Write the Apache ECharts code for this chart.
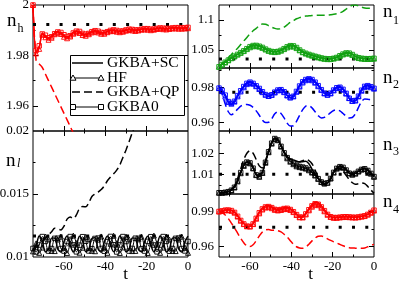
<!DOCTYPE html>
<html><head><meta charset="utf-8">
<script src="https://cdn.jsdelivr.net/npm/echarts@6/dist/echarts.min.js"></script>
<style>html,body{margin:0;padding:0;background:#fff}#c{width:399px;height:283px}</style>
</head><body><div id="c"></div>
<script>
// time grid (shared by every curve)
const T = [-75,-73.5,-72,-70.5,-69,-67.5,-66,-64.5,-63,-61.5,-60,-58.5,-57,-55.5,-54,-52.5,-51,-49.5,-48,-46.5,-45,-43.5,-42,-40.5,-39,-37.5,-36,-34.5,-33,-31.5,-30,-28.5,-27,-25.5,-24,-22.5,-21,-19.5,-18,-16.5,-15,-13.5,-12,-10.5,-9,-7.5,-6,-4.5,-3,-1.5,0];

// n_h
const NH_SC = [2.0,1.9815,1.9832,1.9887,1.9876,1.9867,1.9876,1.9889,1.9894,1.9888,1.9878,1.9872,1.9880,1.9891,1.9896,1.9892,1.9884,1.9882,1.9888,1.9895,1.9898,1.9894,1.9889,1.9890,1.9896,1.9900,1.9900,1.9897,1.9895,1.9898,1.9902,1.9904,1.9902,1.9900,1.9902,1.9905,1.9906,1.9905,1.9903,1.9905,1.9908,1.9909,1.9907,1.9906,1.9908,1.9910,1.9910,1.9909,1.9909,1.9910,1.9911];
const NH_HF = [2.0,1.9808,1.9826,1.9882,1.9872,1.9862,1.9870,1.9884,1.9890,1.9885,1.9874,1.9868,1.9875,1.9886,1.9892,1.9889,1.9881,1.9878,1.9884,1.9891,1.9894,1.9891,1.9886,1.9886,1.9892,1.9896,1.9897,1.9894,1.9892,1.9894,1.9898,1.9901,1.9899,1.9897,1.9899,1.9902,1.9903,1.9902,1.9900,1.9902,1.9905,1.9906,1.9904,1.9903,1.9905,1.9907,1.9907,1.9906,1.9906,1.9907,1.9908];
const NH_G0 = [2.0,1.9820,1.9838,1.9885,1.9880,1.9870,1.9874,1.9886,1.9893,1.9891,1.9882,1.9875,1.9878,1.9889,1.9896,1.9895,1.9887,1.9884,1.9887,1.9894,1.9898,1.9896,1.9891,1.9890,1.9894,1.9899,1.9901,1.9899,1.9896,1.9897,1.9901,1.9904,1.9903,1.9901,1.9901,1.9904,1.9906,1.9906,1.9904,1.9904,1.9907,1.9909,1.9908,1.9907,1.9907,1.9909,1.9910,1.9910,1.9909,1.9910,1.9911];
const NH_QP = [2.0,1.9780,1.9766,1.9752,1.9726,1.9700,1.9674,1.9648,1.9622,1.9596,1.9570,1.9544,1.9518,1.9492,1.9466,1.9440];
const NH_REF = 1.9923;

// n_l
const NL_SC = [0.01060,0.01092,0.01166,0.01124,0.01040,0.01061,0.01150,0.01151,0.01062,0.01039,0.01123,0.01166,0.01093,
 0.01040,0.01090,0.01165,0.01126,0.01042,0.01060,0.01148,0.01152,0.01064,0.01038,0.01120,0.01167,0.01095,
 0.01041,0.01091,0.01166,0.01125,0.01041,0.01062,0.01151,0.01150,0.01061,0.01040,0.01122,0.01165,0.01094,
 0.01040,0.01092,0.01167,0.01124,0.01040,0.01061,0.01150,0.01152,0.01063,0.01039,0.01123,0.01166];
const NL_HF = [0.01045,0.01108,0.01033,0.01075,0.01162,0.01140,0.01048,0.01047,0.01139,0.01162,0.01076,0.01032,0.01107,
 0.01170,0.01110,0.01034,0.01074,0.01160,0.01141,0.01049,0.01046,0.01138,0.01163,0.01078,0.01033,0.01105,
 0.01169,0.01109,0.01032,0.01076,0.01161,0.01140,0.01047,0.01048,0.01140,0.01161,0.01075,0.01032,0.01108,
 0.01170,0.01107,0.01033,0.01075,0.01162,0.01139,0.01048,0.01047,0.01139,0.01162,0.01076,0.01033];
const NL_G0 = [0.01068,
 0.01040,0.01095,0.01162,0.01124,0.01047,0.01067,0.01148,0.01149,0.01067,0.01047,0.01123,0.01162,0.01096,
 0.01041,0.01094,0.01161,0.01125,0.01048,0.01066,0.01147,0.01150,0.01068,0.01046,0.01122,0.01163,0.01097,
 0.01040,0.01096,0.01162,0.01123,0.01047,0.01068,0.01149,0.01148,0.01066,0.01047,0.01124,0.01161,0.01095,
 0.01041,0.01095,0.01162,0.01124,0.01046,0.01067,0.01148,0.01150,0.01067,0.01048,0.01123];
const NL_QP = [0.01050,0.01075,0.01100,0.01125,0.01150,0.01175,0.01200,0.01228,0.01222,0.01215,
 0.01245,0.01300,0.01318,0.01305,0.01335,0.01385,0.01400,0.01398,0.01430,0.01480,
 0.01500,0.01515,0.01535,0.01565,0.01605,0.01635,0.01660,0.01690,0.01730,0.01790,
 0.01850,0.01915,0.01985,0.02050];
const NL_REF = 0.01167;

// n_1
const N1_SC = [1.0220,1.0260,1.0300,1.0335,1.0370,1.0400,1.0430,1.0460,1.0490,1.0530,1.0565,1.0585,1.0585,1.0570,1.0550,1.0520,1.0495,1.0480,1.0475,1.0480,1.0500,1.0530,1.0565,1.0585,1.0580,1.0550,1.0505,1.0470,1.0450,1.0430,1.0415,1.0400,1.0385,1.0370,1.0360,1.0355,1.0355,1.0365,1.0380,1.0410,1.0440,1.0460,1.0455,1.0430,1.0395,1.0375,1.0365,1.0360,1.0358,1.0360,1.0365];
const N1_HF = [1.0220,1.0255,1.0292,1.0328,1.0362,1.0393,1.0423,1.0452,1.0482,1.0515,1.0545,1.0562,1.0565,1.0555,1.0535,1.0508,1.0485,1.0470,1.0465,1.0470,1.0488,1.0515,1.0542,1.0560,1.0557,1.0532,1.0495,1.0462,1.0440,1.0422,1.0405,1.0390,1.0376,1.0363,1.0353,1.0348,1.0348,1.0357,1.0372,1.0398,1.0425,1.0442,1.0440,1.0418,1.0386,1.0366,1.0356,1.0351,1.0350,1.0352,1.0356];
const N1_G0 = [1.0220,1.0258,1.0296,1.0331,1.0366,1.0397,1.0427,1.0456,1.0486,1.0522,1.0555,1.0574,1.0576,1.0563,1.0543,1.0515,1.0490,1.0475,1.0470,1.0476,1.0494,1.0522,1.0553,1.0572,1.0569,1.0541,1.0500,1.0466,1.0445,1.0426,1.0410,1.0395,1.0381,1.0367,1.0357,1.0352,1.0352,1.0361,1.0376,1.0404,1.0432,1.0451,1.0448,1.0424,1.0391,1.0371,1.0361,1.0356,1.0354,1.0356,1.0361];
const N1_QP = [1.0220,1.0270,1.0320,1.0370,1.0425,1.0480,1.0530,1.0590,1.0650,1.0710,1.0770,1.0820,1.0860,1.0905,1.0935,1.0930,1.0905,1.0880,1.0860,1.0850,1.0855,1.0880,1.0920,1.0960,1.0990,1.1020,1.1040,1.1055,1.1065,1.1070,1.1075,1.1080,1.1080,1.1080,1.1080,1.1082,1.1088,1.1095,1.1105,1.1120,1.1145,1.1180,1.1215,1.1245,1.1250,1.1235,1.1215,1.1200,1.1195,1.1195,1.1198];
const N1_REF = 1.035;

// n_2
const N2_SC = [0.9795,0.9780,0.9752,0.9712,0.9702,0.9715,0.9750,0.9780,0.9806,0.9826,0.9833,0.9825,0.9810,0.9795,0.9775,0.9757,0.9748,0.9755,0.9772,0.9786,0.9788,0.9775,0.9752,0.9738,0.9745,0.9775,0.9810,0.9835,0.9848,0.9852,0.9848,0.9832,0.9812,0.9788,0.9765,0.9755,0.9765,0.9785,0.9800,0.9803,0.9790,0.9765,0.9735,0.9718,0.9722,0.9748,0.9785,0.9808,0.9812,0.9805,0.9795];
const N2_HF = [0.9795,0.9778,0.9748,0.9716,0.9706,0.9718,0.9748,0.9776,0.9800,0.9818,0.9825,0.9820,0.9806,0.9790,0.9772,0.9757,0.9750,0.9756,0.9770,0.9782,0.9784,0.9772,0.9753,0.9742,0.9748,0.9774,0.9804,0.9827,0.9840,0.9844,0.9840,0.9826,0.9806,0.9785,0.9765,0.9757,0.9765,0.9782,0.9795,0.9798,0.9786,0.9764,0.9738,0.9722,0.9725,0.9748,0.9780,0.9802,0.9806,0.9800,0.9792];
const N2_G0 = [0.9795,0.9782,0.9755,0.9718,0.9708,0.9720,0.9752,0.9780,0.9804,0.9822,0.9829,0.9822,0.9808,0.9793,0.9774,0.9758,0.9750,0.9757,0.9772,0.9784,0.9786,0.9774,0.9754,0.9741,0.9748,0.9776,0.9807,0.9831,0.9844,0.9848,0.9844,0.9829,0.9809,0.9786,0.9766,0.9757,0.9766,0.9784,0.9797,0.9800,0.9788,0.9765,0.9737,0.9721,0.9724,0.9749,0.9783,0.9805,0.9809,0.9803,0.9794];
const N2_QP = [0.9795,0.9760,0.9705,0.9660,0.9643,0.9655,0.9675,0.9692,0.9700,0.9702,0.9697,0.9685,0.9665,0.9640,0.9612,0.9598,0.9600,0.9620,0.9648,0.9660,0.9650,0.9625,0.9595,0.9578,0.9580,0.9605,0.9640,0.9672,0.9692,0.9695,0.9682,0.9660,0.9638,0.9625,0.9628,0.9640,0.9655,0.9667,0.9671,0.9665,0.9650,0.9635,0.9625,0.9627,0.9648,0.9685,0.9718,0.9733,0.9732,0.9728,0.9726];
const N2_REF = 0.9772;

// n_3
const N3_SC = [1.0012,1.0012,1.0014,1.0018,1.0025,1.0040,1.0070,1.0110,1.0145,1.0160,1.0155,1.0130,1.0098,1.0090,1.0110,1.0160,1.0210,1.0250,1.0272,1.0265,1.0235,1.0205,1.0185,1.0172,1.0168,1.0163,1.0158,1.0160,1.0162,1.0150,1.0125,1.0100,1.0080,1.0062,1.0055,1.0058,1.0080,1.0110,1.0130,1.0138,1.0135,1.0122,1.0106,1.0100,1.0105,1.0115,1.0125,1.0128,1.0120,1.0105,1.0090];
const N3_HF = [1.0012,1.0012,1.0013,1.0017,1.0023,1.0037,1.0066,1.0105,1.0140,1.0156,1.0152,1.0128,1.0096,1.0088,1.0106,1.0155,1.0205,1.0246,1.0268,1.0262,1.0232,1.0200,1.0176,1.0160,1.0148,1.0138,1.0134,1.0131,1.0127,1.0119,1.0108,1.0094,1.0078,1.0063,1.0056,1.0060,1.0080,1.0108,1.0127,1.0134,1.0131,1.0119,1.0104,1.0098,1.0103,1.0113,1.0122,1.0125,1.0117,1.0103,1.0088];
const N3_G0 = [1.0012,1.0012,1.0014,1.0017,1.0024,1.0038,1.0068,1.0108,1.0142,1.0158,1.0154,1.0129,1.0097,1.0089,1.0108,1.0157,1.0207,1.0248,1.0270,1.0263,1.0233,1.0202,1.0179,1.0163,1.0152,1.0142,1.0137,1.0134,1.0130,1.0122,1.0110,1.0096,1.0079,1.0063,1.0056,1.0059,1.0080,1.0109,1.0128,1.0136,1.0133,1.0120,1.0105,1.0099,1.0104,1.0114,1.0123,1.0126,1.0118,1.0104,1.0089];
const N3_QP = [1.0012,1.0012,1.0014,1.0018,1.0026,1.0045,1.0080,1.0125,1.0170,1.0200,1.0212,1.0200,1.0170,1.0140,1.0130,1.0165,1.0210,1.0250,1.0270,1.0262,1.0235,1.0205,1.0185,1.0172,1.0165,1.0160,1.0160,1.0165,1.0170,1.0165,1.0150,1.0120,1.0085,1.0060,1.0050,1.0055,1.0075,1.0105,1.0125,1.0128,1.0115,1.0095,1.0075,1.0060,1.0052,1.0055,1.0058,1.0055,1.0042,1.0025,1.0010];
const N3_REF = 1.010;

// n_4
const N4_SC = [0.9900,0.9905,0.9912,0.9914,0.9910,0.9895,0.9862,0.9825,0.9795,0.9775,0.9772,0.9795,0.9845,0.9895,0.9930,0.9948,0.9950,0.9940,0.9925,0.9920,0.9925,0.9933,0.9935,0.9925,0.9905,0.9878,0.9855,0.9855,0.9885,0.9925,0.9960,0.9980,0.9975,0.9950,0.9915,0.9880,0.9858,0.9850,0.9850,0.9853,0.9856,0.9858,0.9856,0.9853,0.9852,0.9855,0.9860,0.9865,0.9878,0.9895,0.9915];
const N4_HF = [0.9900,0.9904,0.9910,0.9911,0.9906,0.9890,0.9857,0.9821,0.9792,0.9773,0.9771,0.9792,0.9838,0.9884,0.9917,0.9934,0.9937,0.9928,0.9914,0.9909,0.9913,0.9920,0.9922,0.9913,0.9895,0.9870,0.9850,0.9849,0.9875,0.9910,0.9941,0.9958,0.9954,0.9932,0.9902,0.9872,0.9853,0.9846,0.9846,0.9849,0.9852,0.9853,0.9851,0.9849,0.9848,0.9851,0.9856,0.9861,0.9873,0.9889,0.9908];
const N4_G0 = [0.9900,0.9905,0.9911,0.9912,0.9908,0.9892,0.9859,0.9823,0.9793,0.9774,0.9772,0.9793,0.9841,0.9889,0.9922,0.9939,0.9942,0.9933,0.9918,0.9913,0.9917,0.9925,0.9927,0.9917,0.9898,0.9873,0.9852,0.9851,0.9879,0.9915,0.9948,0.9966,0.9962,0.9939,0.9907,0.9875,0.9855,0.9848,0.9848,0.9851,0.9854,0.9855,0.9853,0.9851,0.9850,0.9853,0.9858,0.9863,0.9875,0.9892,0.9911];
const N4_QP = [0.9900,0.9890,0.9870,0.9840,0.9800,0.9760,0.9715,0.9670,0.9632,0.9605,0.9600,0.9615,0.9650,0.9690,0.9725,0.9742,0.9745,0.9740,0.9738,0.9735,0.9725,0.9705,0.9680,0.9650,0.9620,0.9598,0.9588,0.9585,0.9595,0.9620,0.9648,0.9672,0.9688,0.9690,0.9680,0.9665,0.9652,0.9640,0.9630,0.9618,0.9606,0.9597,0.9590,0.9587,0.9586,0.9585,0.9584,0.9588,0.9598,0.9610,0.9618];
const N4_REF = 0.9766;

// tick labels
const X_TICKS = [-60,-40,-20,0];
const X_MINOR = [-70,-50,-30,-10];
const LEGEND_NAMES = ['GKBA+SC','HF','GKBA+QP','GKBA0'];

const FONT = "'Liberation Serif','Times New Roman',serif";

const panels = [
  {left:33, top:5, h:126, min:1.95, max:2.0, labels:[1.96,1.98,2], majors:[1.96,1.98], minors:[1.97,1.99], color:'#ff0000', sc:NH_SC, hf:NH_HF, qp:NH_QP, g0:NH_G0, ref:NH_REF, xl:false, lm:4},
  {left:33, top:131, h:126, min:0.01, max:0.02, labels:[0.01,0.015,0.02], majors:[0.015], minors:[0.0125,0.0175], color:'#000000', sc:NL_SC, hf:NL_HF, qp:NL_QP, g0:NL_G0, ref:NL_REF, xl:true, lm:4},
  {left:219, top:5, h:63, min:1.02, max:1.125, labels:[1.05,1.1], majors:[1.05,1.1], minors:[1.025,1.075], color:'#10a010', sc:N1_SC, hf:N1_HF, qp:N1_QP, g0:N1_G0, ref:N1_REF, xl:false, lm:5},
  {left:219, top:68, h:63, min:0.955, max:0.991, labels:[0.96,0.98], majors:[0.96,0.98], minors:[0.97,0.99], color:'#0000ff', sc:N2_SC, hf:N2_HF, qp:N2_QP, g0:N2_G0, ref:N2_REF, xl:false, lm:5},
  {left:219, top:131, h:63, min:1.0006, max:1.0306, labels:[1.01,1.02], majors:[1.01,1.02], minors:[1.005,1.015,1.025], color:'#000000', sc:N3_SC, hf:N3_HF, qp:N3_QP, g0:N3_G0, ref:N3_REF, xl:false, lm:5},
  {left:219, top:194, h:63, min:0.951, max:1.005, labels:[0.96,0.99], majors:[0.96,0.99], minors:[0.975], color:'#ff0000', sc:N4_SC, hf:N4_HF, qp:N4_QP, g0:N4_G0, ref:N4_REF, xl:true, lm:5}
];

const grids = [], xAxes = [], yAxes = [], series = [];
function pairs(v){ const out=[]; for(let i=0;i<v.length;i++) out.push([T[i], v[i]]); return out; }

panels.forEach((p, gi) => {
  grids.push({left:p.left, top:p.top, width:155, height:p.h, show:true, borderColor:'#000', borderWidth:1, backgroundColor:'transparent', containLabel:false, outerBoundsMode:'none'});
  const tickBase = (vals, len) => ({show:true, inside:true, length:len, customValues:vals, lineStyle:{color:'#000', width:1}});
  const xa = (pos, vals, len, lab) => ({type:'value', gridIndex:gi, min:-75, max:0, position:pos,
    axisLine:{show:false, onZero:false}, splitLine:{show:false},
    axisTick:tickBase(vals,len),
    axisLabel: lab ? {show:true, customValues:X_TICKS, margin:3, fontSize:13, fontFamily:FONT, color:'#000', showMinLabel:true, showMaxLabel:true, hideOverlap:false} : {show:false}});
  const ya = (pos, vals, len, lab) => ({type:'value', gridIndex:gi, min:p.min, max:p.max, position:pos,
    axisLine:{show:false, onZero:false}, splitLine:{show:false},
    axisTick:tickBase(vals,len),
    axisLabel: lab ? {show:true, customValues:p.labels, margin:p.lm, fontSize:13, fontFamily:FONT, color:'#000', showMinLabel:true, showMaxLabel:true, hideOverlap:false} : {show:false}});
  const xi = xAxes.length, yi = yAxes.length;
  xAxes.push(xa('bottom', X_TICKS.slice(0,3), 5, p.xl), xa('bottom', X_MINOR, 2.5, false), xa('top', X_TICKS.slice(0,3), 5, false), xa('top', X_MINOR, 2.5, false));
  yAxes.push(ya('left', p.majors, 5, true), ya('left', p.minors, 2.5, false), ya('right', p.majors, 5, false), ya('right', p.minors, 2.5, false));
  const base = {type:'line', xAxisIndex:xi, yAxisIndex:yi, smooth:0.3, animation:false, clip:true, silent:true};
  series.push(Object.assign({}, base, {name:LEGEND_NAMES[2], data:pairs(p.qp), showSymbol:false, lineStyle:{color:p.color, width:1.5, type:[8,4]}}));
  series.push(Object.assign({}, base, {name:LEGEND_NAMES[3], data:pairs(p.g0), symbol:'rect', symbolSize:4.5, itemStyle:{color:'rgba(0,0,0,0)', borderColor:p.color, borderWidth:0.9}, lineStyle:{color:p.color, width:1}}));
  series.push(Object.assign({}, base, {name:LEGEND_NAMES[1], data:pairs(p.hf), symbol:'triangle', symbolSize:5, itemStyle:{color:'rgba(0,0,0,0)', borderColor:p.color, borderWidth:0.9}, lineStyle:{color:p.color, width:1}}));
  series.push(Object.assign({}, base, {name:LEGEND_NAMES[0], data:pairs(p.sc), showSymbol:false, lineStyle:{color:p.color, width:1.5}}));
  series.push({type:'line', xAxisIndex:xi, yAxisIndex:yi, animation:false, silent:true, showSymbol:false,
    data:[[-75,p.ref],[0,p.ref]], lineStyle:{color:'#000', width:3, type:[3,10.3], cap:'butt'}});
});

function txt(t, x, y, size, opts){ return Object.assign({type:'text', z:100, style:{text:t, x:x, y:y, font:size+'px '+FONT, fill:'#000', align:'left', verticalAlign:'middle', textAlign:'left', textVerticalAlign:'middle'}}, opts||{}); }
const graphic = [];
// legend box
graphic.push({type:'rect', z:100, shape:{x:70.5, y:55.5, width:114, height:60}, style:{fill:'#fff', stroke:'#000', lineWidth:1}});
const rows = [63, 78, 92, 107];
graphic.push({type:'line', z:101, shape:{x1:72, y1:rows[0], x2:103, y2:rows[0]}, style:{stroke:'#000', lineWidth:1.5}});
graphic.push({type:'line', z:101, shape:{x1:73, y1:rows[1], x2:101, y2:rows[1]}, style:{stroke:'#000', lineWidth:1}});
[73,101].forEach(cx => graphic.push({type:'polygon', z:102, shape:{points:[[cx,rows[1]-3],[cx-3,rows[1]+2.2],[cx+3,rows[1]+2.2]]}, style:{fill:'#fff', stroke:'#000', lineWidth:1}}));
graphic.push({type:'line', z:101, shape:{x1:72, y1:rows[2], x2:103, y2:rows[2]}, style:{stroke:'#000', lineWidth:1.5, lineDash:[8,4]}});
graphic.push({type:'line', z:101, shape:{x1:73, y1:rows[3], x2:101, y2:rows[3]}, style:{stroke:'#000', lineWidth:1}});
[73,101].forEach(cx => graphic.push({type:'rect', z:102, shape:{x:cx-2.5, y:rows[3]-2.5, width:5, height:5}, style:{fill:'#fff', stroke:'#000', lineWidth:1}}));
LEGEND_NAMES.forEach((n,i) => graphic.push(txt(n, 107, rows[i], 15.5, {z:103})));
// panel labels
const lab = [['n','h',7,21.5,17.5,28.5,false],['n','l',6,161.5,17,164,true],['n','1',383,12.5,393,20.5,false],['n','2',383,78,393,85,false],['n','3',383,145,393,151.5,false],['n','4',383,202,393,209.5,false]];
lab.forEach(l => {
  graphic.push(txt(l[0], l[2], l[3], 19));
  const s = txt(l[1], l[4], l[5], 12);
  if (l[6]) s.style.font = 'italic 12px '+FONT;
  graphic.push(s);
});
// axis titles
graphic.push(txt('t', 125.5, 274.5, 17));
graphic[graphic.length-1].style.align='center'; graphic[graphic.length-1].style.textAlign='center';
graphic.push(txt('t', 310.5, 274.5, 17));
graphic[graphic.length-1].style.align='center'; graphic[graphic.length-1].style.textAlign='center';

const chart = echarts.init(document.getElementById('c'), null, {renderer:'canvas'});
chart.setOption({animation:false, backgroundColor:'#fff', grid:grids, xAxis:xAxes, yAxis:yAxes, series:series, graphic:graphic});
</script></body></html>
